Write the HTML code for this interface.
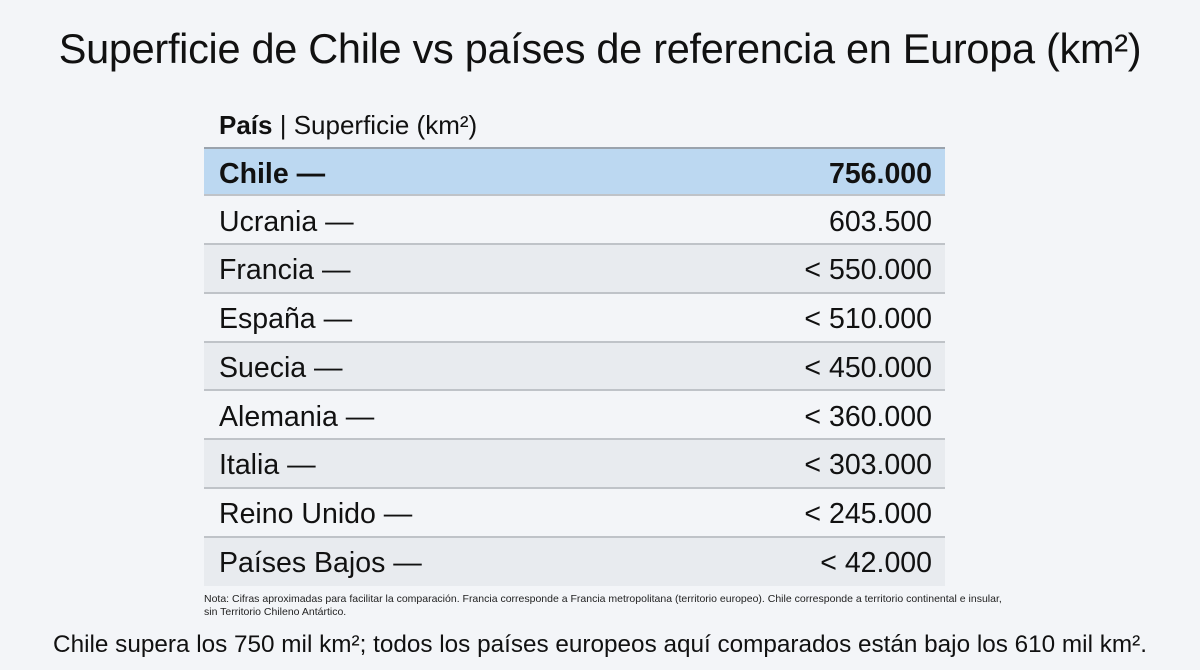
<!DOCTYPE html>
<html><head><meta charset="utf-8"><style>
html,body{margin:0;padding:0}
body{width:1200px;height:670px;background:#f3f5f8;font-family:"Liberation Sans",sans-serif;color:#111;position:relative;overflow:hidden}
#title{position:absolute;left:0;width:1200px;top:25px;text-align:center;font-size:41.5px;letter-spacing:-0.3px}
#hdr{position:absolute;left:219px;top:110px;font-size:26px}
#tbl{position:absolute;left:204px;top:148px;width:741px}
.row{position:absolute;left:0;width:741px;height:48.7px;border-bottom:2px solid #bfc3c8;box-sizing:border-box}
.row span{position:absolute;top:9px;font-size:28.5px}
.row .n{left:15px}.row .v{right:13px}
#note{position:absolute;left:204px;top:593px;width:800px;font-size:10.5px;line-height:13px;color:#222}
#foot{position:absolute;left:0;width:1200px;top:631px;text-align:center;font-size:24.3px}
</style></head><body>
<div id="title">Superficie de Chile vs países de referencia en Europa (km²)</div>
<div id="hdr"><b>País</b> | Superficie (km²)</div>
<div id="tbl"></div>
<div id="note">Nota: Cifras aproximadas para facilitar la comparación. Francia corresponde a Francia metropolitana (territorio europeo). Chile corresponde a territorio continental e insular, sin Territorio Chileno Antártico.</div>
<div id="foot">Chile supera los 750 mil km²; todos los países europeos aquí comparados están bajo los 610 mil km².</div>
<script>
const countries=["Chile","Ucrania","Francia","España","Suecia","Alemania","Italia","Reino Unido","Países Bajos"];
const values=["756.000","603.500","< 550.000","< 510.000","< 450.000","< 360.000","< 303.000","< 245.000","< 42.000"];
const tbl=document.getElementById('tbl');
countries.forEach((c,i)=>{
 const r=document.createElement('div');
 r.className='row';
 
 
 r.style.top=(i*48.7)+'px';
 r.style.background=i===0?'#bcd8f1':(i%2===0?'#e8ebef':'#f3f5f8');
 if(i===0){r.style.borderTop='2px solid #9aa3ad';r.style.top='-1px';}
 if(i===countries.length-1){r.style.borderBottom='none';}
 const n=document.createElement('span');n.className='n';n.textContent=c+' —';
 
 
 const v=document.createElement('span');v.className='v';v.textContent=values[i];
 
 
 if(i===0){n.style.fontWeight='bold';v.style.fontWeight='bold';}
 r.appendChild(n);r.appendChild(v);tbl.appendChild(r);
});
</script>
</body></html>
